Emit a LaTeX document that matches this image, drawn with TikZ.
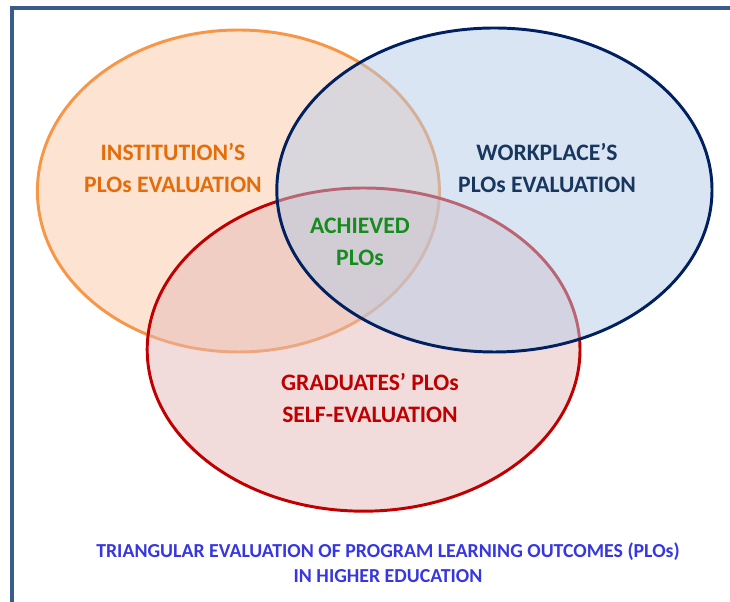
\documentclass[tikz,border=0pt]{standalone}
\usepackage{fontspec}
\setmainfont{Carlito}
\usepackage{tikz}

\definecolor{frameblue}{RGB}{56,93,138}
\definecolor{instline}{RGB}{247,150,70}
\definecolor{instfill}{RGB}{251,201,165}
\definecolor{insttext}{RGB}{228,108,10}
\definecolor{workline}{RGB}{0,32,96}
\definecolor{workfill}{RGB}{181,203,231}
\definecolor{worktext}{RGB}{23,55,94}
\definecolor{gradline}{RGB}{192,0,0}
\definecolor{gradfill}{RGB}{229,185,183}
\definecolor{gradtext}{RGB}{192,0,0}
\definecolor{achtext}{RGB}{20,140,30}
\definecolor{titletext}{RGB}{55,55,225}

\tikzset{
    circlebox/.style={line width=2.1pt, fill opacity=0.5},
    circlelabel/.style={align=center, font=\bfseries\fontsize{16.8}{22.7}\selectfont},
}

\begin{document}
\begin{tikzpicture}
    \useasboundingbox (0,0) rectangle (18.25,15.05);
    \clip (0,0) rectangle (18.25,15.05);

    % outer frame, runs off the page on the right and bottom
    \draw[frameblue, line width=2.2pt] (0.3,-1) -- (0.3,14.85) -- (19,14.85);

    % the three evaluations
    \draw[circlebox, instline, fill=instfill] (5.96,10.275) ellipse (5.025 and 4.025);
    \draw[circlebox, gradline, fill=gradfill] (9.09,6.31) ellipse (5.41 and 4.04);
    \draw[circlebox, workline, fill=workfill] (12.36,10.3) ellipse (5.44 and 4.05);

    \node[circlelabel, text=insttext] (inst) at (4.325,10.85) {INSTITUTION’S\\PLOs EVALUATION};
    \node[circlelabel, text=worktext] (work) at (13.675,10.85) {WORKPLACE’S\\PLOs EVALUATION};
    \node[circlelabel, text=achtext] (achieved) at (9.0,9.0) {ACHIEVED\\PLOs};
    \node[circlelabel, text=gradtext] (grad) at (9.25,5.11) {GRADUATES’ PLOs\\SELF-EVALUATION};

    \node[align=center, text=titletext, font=\bfseries\fontsize{14.1}{17.8}\selectfont] (title)
        at (9.7,0.99) {TRIANGULAR EVALUATION OF PROGRAM LEARNING OUTCOMES (PLOs)\\IN HIGHER EDUCATION};
\end{tikzpicture}
\end{document}
